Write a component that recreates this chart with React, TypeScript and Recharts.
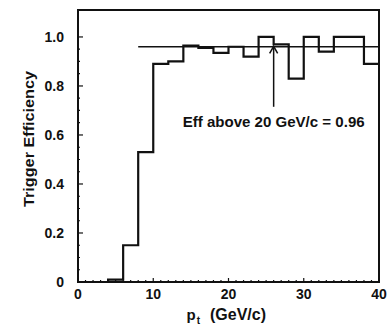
import { ComposedChart, Line, XAxis, YAxis, ReferenceLine, ReferenceArea, ReferenceDot, Label } from "recharts";

// lower edge of each 2 GeV/c bin
const binEdges = [0, 2, 4, 6, 8, 10, 12, 14, 16, 18, 20, 22, 24, 26, 28, 30, 32, 34, 36, 38];
const binEnd = 40;
// trigger efficiency per bin
const efficiency = [
  0, 0, 0.01, 0.15, 0.53, 0.89, 0.9, 0.965, 0.955, 0.935,
  0.96, 0.92, 1.0, 0.97, 0.83, 1.0, 0.94, 1.0, 1.0, 0.89,
];
const fitValue = 0.96;
const fitStart = 8;

const xMajor = [0, 10, 20, 30, 40];
const xTicks = Array.from({ length: 41 }, (_, i) => i);
const yMajor = [0, 0.2, 0.4, 0.6, 0.8, 1.0];
const yTicks = Array.from({ length: 21 }, (_, i) => i * 0.05);

const data = [
  ...binEdges.map((x, i) => ({ x, eff: efficiency[i] })),
  { x: binEnd, eff: efficiency[efficiency.length - 1] },
];

const FONT = '"Liberation Sans", Arial, sans-serif';

const XTick = (props: any) => {
  const { x, y, payload } = props;
  const v = payload.value;
  const major = xMajor.includes(v);
  return (
    <g>
      <line x1={x} x2={x} y1={y} y2={y - (major ? 4 : 2)} stroke="#111" strokeWidth={1.2} />
      {major && (
        <text x={x} y={y + 17} textAnchor="middle" fontFamily={FONT} fontWeight="bold" fontSize={14} fill="#111">
          {v}
        </text>
      )}
    </g>
  );
};

const YTick = (props: any) => {
  const { x, y, payload } = props;
  const v = payload.value;
  const major = yMajor.some((m) => Math.abs(m - v) < 1e-6);
  return (
    <g>
      <line x1={x} x2={x + (major ? 5 : 2)} y1={y} y2={y} stroke="#111" strokeWidth={1.2} />
      {major && (
        <text x={x - 14} y={y + 5} textAnchor="end" fontFamily={FONT} fontWeight="bold" fontSize={14} fill="#111">
          {v === 0 ? "0" : v.toFixed(1)}
        </text>
      )}
    </g>
  );
};

const Arrowhead = (props: any) => {
  const { cx, cy } = props;
  return <path d={`M${cx - 4},${cy + 7} L${cx},${cy} L${cx + 4},${cy + 7}`} fill="none" stroke="#111" strokeWidth={1.5} />;
};

const Note = (props: any) => {
  const { cx, cy } = props;
  return (
    <text x={cx} y={cy + 5} textAnchor="middle" fontFamily={FONT} fontWeight="bold" fontSize={15} fill="#111" textLength={182} lengthAdjust="spacingAndGlyphs">
      Eff above 20 GeV/c = 0.96
    </text>
  );
};

export default function App() {
  return (
    <div style={{ position: "absolute", left: 0, top: 0, background: "#fff" }}>
      <ComposedChart width={391} height={327} data={data} margin={{ top: 10, right: 12, bottom: 0, left: 0 }}>
        <XAxis
          dataKey="x"
          type="number"
          domain={[0, 40]}
          ticks={xTicks}
          interval={0}
          tick={<XTick />}
          tickLine={false}
          tickSize={0}
          tickMargin={0}
          axisLine={false}
          height={45}
        >
          <Label
            content={(p: any) => {
              const vb = p.viewBox;
              const cx = vb.x + vb.width / 2;
              return (
                <text x={cx - 42} y={vb.y + 38} fontFamily={FONT} fontWeight="bold" fontSize={15} fill="#111">
                  <tspan>p</tspan>
                  <tspan fontSize={10} dy={4} dx={1}>t</tspan>
                  <tspan dy={-4} dx={10} fontSize={16}>(GeV/c)</tspan>
                </text>
              );
            }}
          />
        </XAxis>
        <YAxis
          type="number"
          domain={[0, 1.11]}
          allowDataOverflow
          ticks={yTicks}
          interval={0}
          tick={<YTick />}
          tickLine={false}
          tickSize={0}
          tickMargin={0}
          axisLine={false}
          width={78}
        >
          <Label
            content={() => (
              <text
                x={28.5}
                y={139}
                transform="rotate(-90 28.5 139)"
                textAnchor="middle"
                dominantBaseline="central"
                fontFamily={FONT}
                fontWeight="bold"
                fontSize={14}
                fill="#111"
                textLength={136}
                lengthAdjust="spacingAndGlyphs"
              >
                Trigger Efficiency
              </text>
            )}
          />
        </YAxis>
        <ReferenceArea x1={0} x2={40} y1={0} y2={1.11} fill="none" stroke="#111" strokeWidth={2} />
        <ReferenceLine segment={[{ x: fitStart, y: fitValue }, { x: binEnd, y: fitValue }]} stroke="#111" strokeWidth={1.6} />
        <Line
          dataKey="eff"
          type="stepAfter"
          stroke="#111"
          strokeWidth={2.2}
          dot={false}
          isAnimationActive={false}
        />
        <ReferenceLine segment={[{ x: 26, y: 0.715 }, { x: 26, y: 0.962 }]} stroke="#111" strokeWidth={1.5} />
        <ReferenceDot x={26} y={0.962} r={0} shape={<Arrowhead />} />
        <ReferenceDot x={26} y={0.653} r={0} shape={<Note />} />
      </ComposedChart>
    </div>
  );
}
